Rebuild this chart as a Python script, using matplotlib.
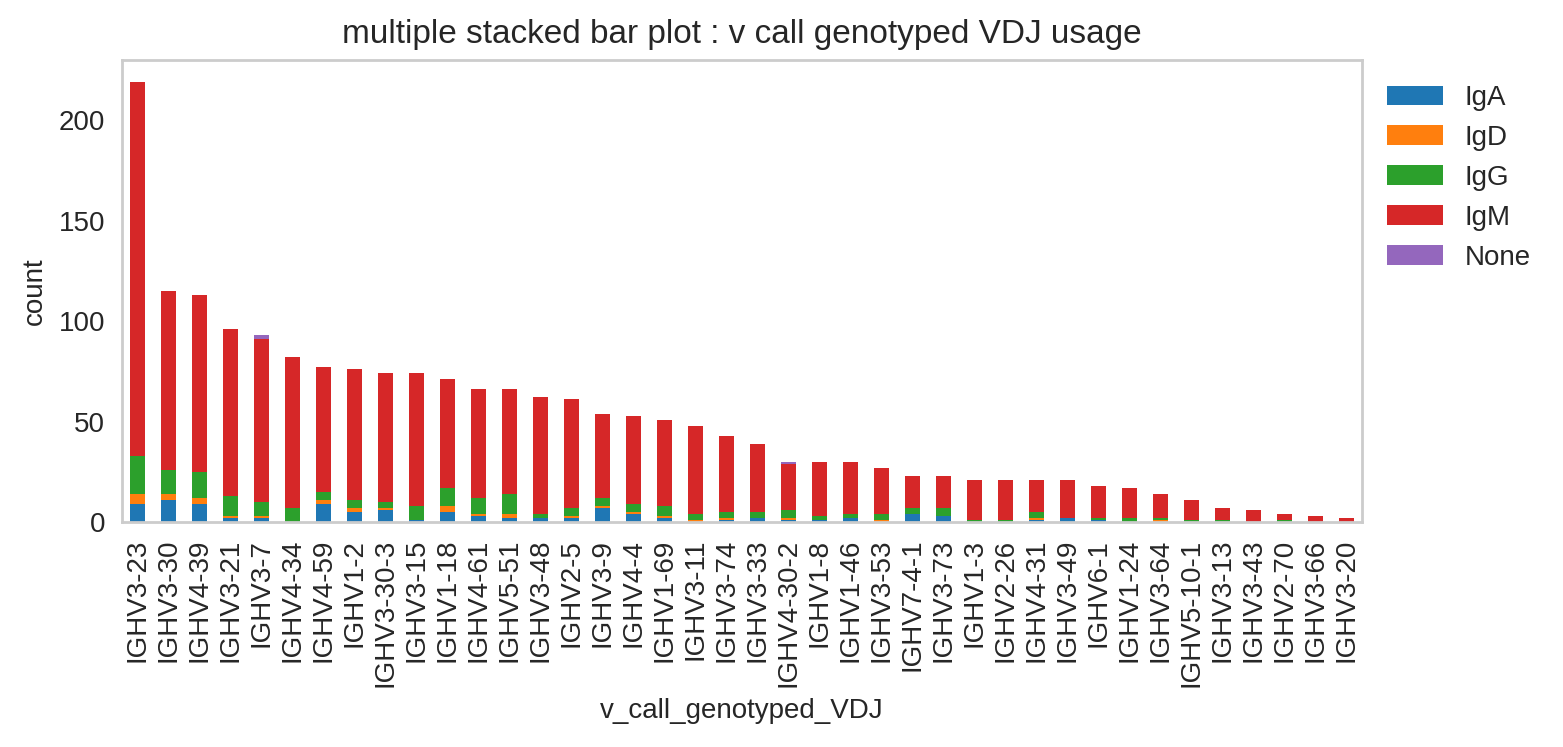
import matplotlib
matplotlib.use("Agg")
import matplotlib.pyplot as plt
import pandas as pd

# v gene calls, ordered by total count
genes = ["IGHV3-23", "IGHV3-30", "IGHV4-39", "IGHV3-21", "IGHV3-7", "IGHV4-34",
         "IGHV4-59", "IGHV1-2", "IGHV3-30-3", "IGHV3-15", "IGHV1-18", "IGHV4-61",
         "IGHV5-51", "IGHV3-48", "IGHV2-5", "IGHV3-9", "IGHV4-4", "IGHV1-69",
         "IGHV3-11", "IGHV3-74", "IGHV3-33", "IGHV4-30-2", "IGHV1-8", "IGHV1-46",
         "IGHV3-53", "IGHV7-4-1", "IGHV3-73", "IGHV1-3", "IGHV2-26", "IGHV4-31",
         "IGHV3-49", "IGHV6-1", "IGHV1-24", "IGHV3-64", "IGHV5-10-1", "IGHV3-13",
         "IGHV3-43", "IGHV2-70", "IGHV3-66", "IGHV3-20"]

iga = [9, 11, 9, 2, 2, 0, 9, 5, 6, 1, 5, 3, 2, 2, 2, 7, 4, 2, 0, 1,
       2, 1, 1, 2, 0, 4, 3, 0, 0, 1, 2, 1, 0, 0, 0, 0, 0, 0, 0, 0]
igd = [5, 3, 3, 1, 1, 0, 2, 2, 1, 0, 3, 1, 2, 0, 1, 1, 1, 1, 1, 1,
       0, 1, 0, 0, 1, 0, 0, 0, 0, 1, 0, 0, 0, 1, 0, 0, 0, 0, 0, 0]
igg = [19, 12, 13, 10, 7, 7, 4, 4, 3, 7, 9, 8, 10, 2, 4, 4, 4, 5, 3, 3,
       3, 4, 2, 2, 3, 3, 4, 1, 1, 3, 0, 1, 2, 1, 1, 1, 0, 1, 0, 0]
igm = [186, 89, 88, 83, 81, 75, 62, 65, 64, 66, 54, 54, 52, 58, 54, 42, 44, 43, 44, 38,
       34, 23, 27, 26, 23, 16, 16, 20, 20, 16, 19, 16, 15, 12, 10, 6, 6, 3, 3, 2]
none = [0, 0, 0, 0, 2, 0, 0, 0, 0, 0, 0, 0, 0, 0, 0, 0, 0, 0, 0, 0,
        0, 1, 0, 0, 0, 0, 0, 0, 0, 0, 0, 0, 0, 0, 0, 0, 0, 0, 0, 0]

df = pd.DataFrame({"IgA": iga, "IgD": igd, "IgG": igg, "IgM": igm, "None": none},
                  index=pd.Index(genes, name="v_call_genotyped_VDJ"))

plt.rcParams["font.family"] = ["Liberation Sans", "DejaVu Sans"]
plt.rcParams["text.color"] = ".15"
plt.rcParams["axes.labelcolor"] = ".15"
plt.rcParams["xtick.color"] = ".15"
plt.rcParams["ytick.color"] = ".15"

fig, ax = plt.subplots(figsize=(7.815, 3.735), dpi=200)
fig.subplots_adjust(left=0.078, right=0.8714, bottom=0.3012, top=0.9197)

df.plot.bar(stacked=True, ax=ax, width=0.5)

for s in ax.spines.values():
    s.set_color(".8")
    s.set_linewidth(1.0)
ax.tick_params(axis="both", length=0, pad=6, labelsize=10)
ax.grid(False)
ax.set_ylabel("count", fontsize=10)
ax.set_xlabel("v_call_genotyped_VDJ", fontsize=10)
ax.set_title("multiple stacked bar plot : v call genotyped VDJ usage", fontsize=12)
ax.legend(loc="upper left", bbox_to_anchor=(1.0, 1.0), frameon=False, fontsize=10)

fig.savefig("out.png", dpi=200)
